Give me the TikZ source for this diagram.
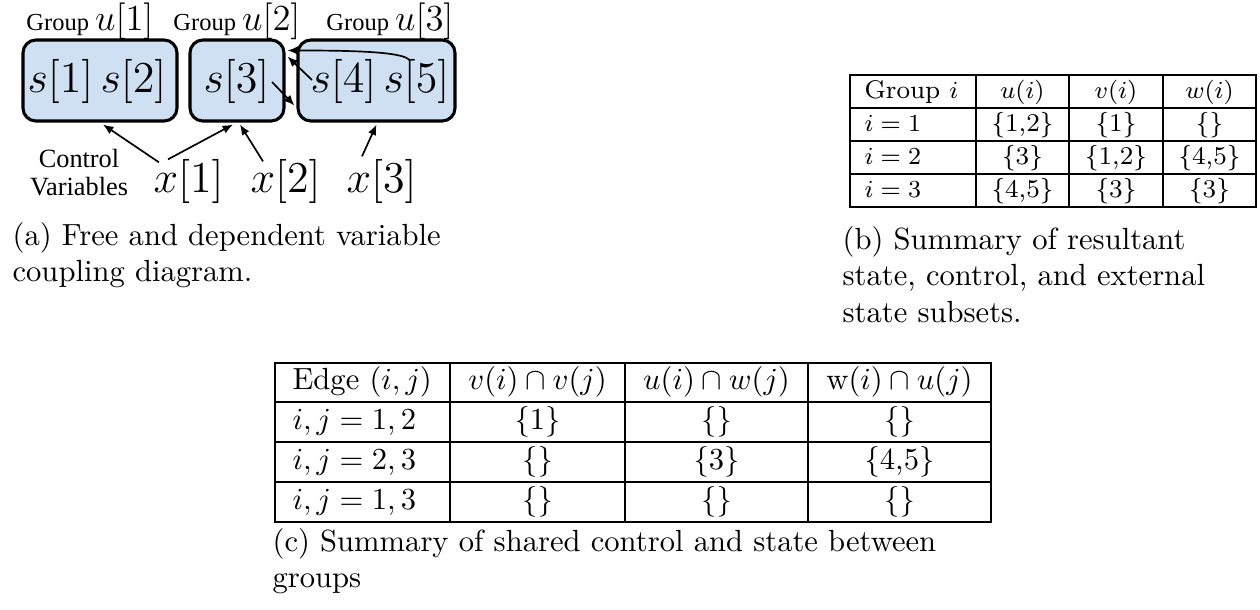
\documentclass[tikz,border=0pt]{standalone}
\usepackage{fontspec}
\newfontfamily\timesfont{Liberation Serif}
\usetikzlibrary{arrows.meta,fit}
\definecolor{boxblue}{RGB}{207,224,242}
\begin{document}
\begin{tikzpicture}[x=0.3268pt,y=-0.3268pt,
  grpbox/.style={draw, line width=1pt, rounded corners=4.2pt, fill=boxblue, inner sep=0pt},
  arr/.style={-{Latex[length=3.4pt,width=2.8pt]}, line width=0.55pt},
  bigmath/.style={font=\fontsize{14}{16}\selectfont, inner sep=0pt, anchor=base west},
  grplabel/.style={inner sep=0pt, anchor=base},
  cvlabel/.style={font=\timesfont\fontsize{8.6}{9.4}\selectfont, inner sep=0pt, anchor=base},
  tline/.style={line width=0.4pt},
  tbtext/.style={font=\fontsize{8.35}{10}\selectfont, inner sep=0pt},
  tctext/.style={font=\fontsize{10}{12}\selectfont, inner sep=0pt},
  captext/.style={font=\fontsize{10}{12}\selectfont, inner sep=0pt, anchor=base west}]
\useasboundingbox (0,0) rectangle (1260,609);

% ---------- panel (a) ----------
\node[grpbox, fit={(23,40) (177,121)}] (b1) {};
\node[grpbox, fit={(190,40) (284,121)}] (b2) {};
\node[grpbox, fit={(298,40) (455,121)}] (b3) {};

\node[grplabel] (g1) at (90,30) {{\timesfont\fontsize{8}{9}\selectfont Group }{\fontsize{11.5}{13}\selectfont$u[1]$}};
\node[grplabel] (g2) at (237,30) {{\timesfont\fontsize{8}{9}\selectfont Group }{\fontsize{11.5}{13}\selectfont$u[2]$}};
\node[grplabel] (g3) at (390,30) {{\timesfont\fontsize{8}{9}\selectfont Group }{\fontsize{11.5}{13}\selectfont$u[3]$}};

\node[bigmath] (s1) at (27,92) {$s[1]$};
\node[bigmath] (s2) at (100,92) {$s[2]$};
\node[bigmath] (s3) at (203,92) {$s[3]$};
\node[bigmath] (s4) at (310,92) {$s[4]$};
\node[bigmath] (s5) at (383,92) {$s[5]$};

\node[bigmath] (x1) at (153,192) {$x[1]$};
\node[bigmath] (x2) at (250,192) {$x[2]$};
\node[bigmath] (x3) at (346,192) {$x[3]$};

\node[cvlabel] (cv1) at (79,167) {Control};
\node[cvlabel] (cv2) at (79,195) {Variables};

\draw[arr] ([shift={(6,4)}]x1.north west) -- ([shift={(3,2)}]b1.south);
\draw[arr] ([shift={(15,1)}]x1.north west) -- ([shift={(-4,2)}]b2.south);
\draw[arr] ([shift={(13,3)}]x2.north west) -- ([shift={(3,2)}]b2.south);
\draw[arr] ([shift={(16,-2)}]x3.north west) -- ([shift={(0,2)}]b3.south);
\draw[arr] ([shift={(2,1)}]s3.east) -- ([shift={(-2,25)}]b3.west);
\draw[arr] ([shift={(2,-1)}]s4.west) -- ([shift={(2,-24)}]b2.east);
\draw[arr] ([shift={(-7,2)}]s5.north) .. controls +(-5,-9) and +(60,0) .. ([shift={(2,12)}]b2.north east);

\node[captext] (capa1) at (12,245) {(a) Free and dependent variable};
\node[captext] (capa2) at (12,281) {coupling diagram.};

% ---------- panel (b) ----------
\draw[tline] (850,75) rectangle (1256,207);
\foreach \xx in {976,1069,1163} \draw[tline] (\xx,75) -- (\xx,207);
\foreach \yy in {108,141,174} \draw[tline] (850,\yy) -- (1256,\yy);

\node[tbtext, anchor=base west] (bh1) at (864,98) {Group $i$};
\node[tbtext, anchor=base] (bh2) at (1022.5,98) {$u(i)$};
\node[tbtext, anchor=base] (bh3) at (1116,98) {$v(i)$};
\node[tbtext, anchor=base] (bh4) at (1209.5,98) {$w(i)$};

\node[tbtext, anchor=base west] (b11) at (864,131) {$i=1$};
\node[tbtext, anchor=base] (b12) at (1022.5,131) {\{1,2\}};
\node[tbtext, anchor=base] (b13) at (1116,131) {\{1\}};
\node[tbtext, anchor=base] (b14) at (1209.5,131) {\{\}};

\node[tbtext, anchor=base west] (b21) at (864,164) {$i=2$};
\node[tbtext, anchor=base] (b22) at (1022.5,164) {\{3\}};
\node[tbtext, anchor=base] (b23) at (1116,164) {\{1,2\}};
\node[tbtext, anchor=base] (b24) at (1209.5,164) {\{4,5\}};

\node[tbtext, anchor=base west] (b31) at (864,197) {$i=3$};
\node[tbtext, anchor=base] (b32) at (1022.5,197) {\{4,5\}};
\node[tbtext, anchor=base] (b33) at (1116,197) {\{3\}};
\node[tbtext, anchor=base] (b34) at (1209.5,197) {\{3\}};

\node[captext] (capb1) at (842,249) {(b) Summary of resultant};
\node[captext] (capb2) at (842,285.5) {state, control, and external};
\node[captext] (capb3) at (842,322) {state subsets.};

% ---------- panel (c) ----------
\draw[tline] (275,363) rectangle (991,522);
\foreach \xx in {450,625,808} \draw[tline] (\xx,363) -- (\xx,522);
\foreach \yy in {402,442,482} \draw[tline] (275,\yy) -- (991,\yy);

\node[tctext, anchor=base west] (ch1) at (292,389.5) {Edge $(i,j)$};
\node[tctext, anchor=base] (ch2) at (537.5,389.5) {$v(i)\cap v(j)$};
\node[tctext, anchor=base] (ch3) at (716.5,389.5) {$u(i)\cap w(j)$};
\node[tctext, anchor=base] (ch4) at (899.5,389.5) {w$(i)\cap u(j)$};

\node[tctext, anchor=base west] (c11) at (292,429.5) {$i,j=1,2$};
\node[tctext, anchor=base] (c12) at (537.5,429.5) {\{1\}};
\node[tctext, anchor=base] (c13) at (716.5,429.5) {\{\}};
\node[tctext, anchor=base] (c14) at (899.5,429.5) {\{\}};

\node[tctext, anchor=base west] (c21) at (292,469.5) {$i,j=2,3$};
\node[tctext, anchor=base] (c22) at (537.5,469.5) {\{\}};
\node[tctext, anchor=base] (c23) at (716.5,469.5) {\{3\}};
\node[tctext, anchor=base] (c24) at (899.5,469.5) {\{4,5\}};

\node[tctext, anchor=base west] (c31) at (292,509.5) {$i,j=1,3$};
\node[tctext, anchor=base] (c32) at (537.5,509.5) {\{\}};
\node[tctext, anchor=base] (c33) at (716.5,509.5) {\{\}};
\node[tctext, anchor=base] (c34) at (899.5,509.5) {\{\}};

\node[captext] (capc1) at (272,551) {(c) Summary of shared control and state between};
\node[captext] (capc2) at (272,587.5) {groups};
\end{tikzpicture}
\end{document}
